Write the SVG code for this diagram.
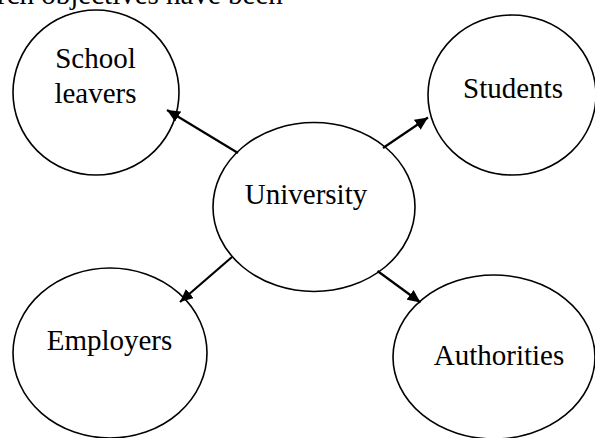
<svg xmlns="http://www.w3.org/2000/svg" width="595" height="438" viewBox="0 0 595 438">
<style>
.n{fill:#fff;stroke:#000;stroke-width:1.6}
.t{font-family:"Liberation Serif","Times New Roman",serif;font-size:29px;fill:#000;text-anchor:middle}
.c{stroke:#000;stroke-width:2.2;fill:none;marker-end:url(#ah)}
</style>
<defs>
<marker id="ah" markerUnits="userSpaceOnUse" viewBox="0 0 13 12" markerWidth="13" markerHeight="12" refX="13" refY="6" orient="auto">
<path d="M0,0 L13,6 L0,12 z" fill="#000"/>
</marker>
</defs>
<rect width="595" height="438" fill="#fff"/>
<text x="-3" y="4" style="font-family:'Liberation Serif','Times New Roman',serif;font-size:29px">rch objectives have been</text>
<g id="school-leavers">
<ellipse class="n" cx="96" cy="92.5" rx="83" ry="82.5"/>
<text class="t" x="95.5" y="68">School</text>
<text class="t" x="95.5" y="103">leavers</text>
</g>
<g id="students">
<ellipse class="n" cx="512" cy="95" rx="84" ry="80"/>
<text class="t" x="513" y="98">Students</text>
</g>
<g id="university">
<ellipse class="n" cx="314" cy="207" rx="101" ry="84.5"/>
<text class="t" x="306" y="204">University</text>
</g>
<g id="employers">
<ellipse class="n" cx="110" cy="353" rx="97" ry="85"/>
<text class="t" x="109.5" y="350">Employers</text>
</g>
<g id="authorities">
<ellipse class="n" cx="494" cy="357" rx="101" ry="82"/>
<text class="t" x="499" y="365">Authorities</text>
</g>
<g id="connectors">
<line class="c" x1="238" y1="153" x2="167" y2="110"/>
<line class="c" x1="383" y1="148" x2="428" y2="117.5"/>
<line class="c" x1="232" y1="257" x2="180" y2="302"/>
<line class="c" x1="377.5" y1="271" x2="420.5" y2="302.5"/>
</g>
</svg>
